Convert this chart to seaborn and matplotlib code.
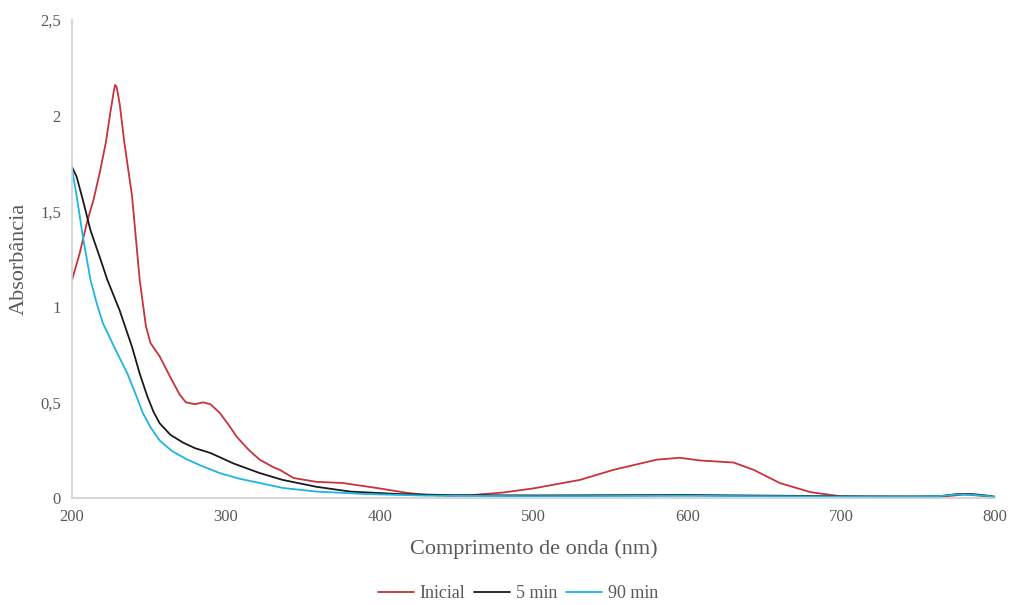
import matplotlib
matplotlib.use("Agg")
import matplotlib.pyplot as plt
import pandas as pd
import seaborn as sns

# wavelengths (nm) and absorbance
wl_inicial = [200, 205, 210, 214, 218, 222, 225, 227, 228, 229, 231, 234, 239, 244, 248, 251,
              257, 264, 270, 274, 280, 285, 290, 296, 302, 307, 315, 322, 331, 335, 344, 359,
              376, 398, 418, 430, 445, 460, 480, 500, 530, 552, 580, 595, 608, 630, 643,
              660, 680, 700, 720, 760, 770, 780, 790, 800]
abs_inicial = [1.14, 1.28, 1.45, 1.56, 1.70, 1.86, 2.02, 2.12, 2.16, 2.15, 2.06, 1.86, 1.58,
               1.14, 0.90, 0.81, 0.74, 0.63, 0.54, 0.50, 0.49, 0.50, 0.49, 0.445, 0.38, 0.32,
               0.25, 0.20, 0.16, 0.147, 0.104, 0.084, 0.078, 0.052, 0.026, 0.016, 0.012,
               0.015, 0.028, 0.05, 0.094, 0.147, 0.20, 0.21, 0.196, 0.185, 0.147, 0.078,
               0.03, 0.008, 0.004, 0.004, 0.01, 0.018, 0.012, 0.004]

wl_5min = [200, 203, 207, 212, 218, 223, 231, 239, 244, 249, 253, 257, 264, 272, 280, 290,
           305, 322, 337, 359, 381, 413, 450, 500, 550, 600, 650, 700, 750, 765, 775, 785,
           795, 800]
abs_5min = [1.73, 1.68, 1.56, 1.40, 1.26, 1.14, 0.98, 0.79, 0.65, 0.53, 0.45, 0.39, 0.33,
            0.29, 0.26, 0.235, 0.18, 0.13, 0.094, 0.058, 0.033, 0.02, 0.014, 0.013, 0.014,
            0.015, 0.012, 0.009, 0.008, 0.01, 0.02, 0.02, 0.012, 0.006]

wl_90min = [200, 203, 207, 212, 216, 220, 228, 236, 241, 246, 251, 257, 265, 275, 285, 296,
            309, 322, 337, 359, 392, 430, 500, 550, 600, 650, 700, 750, 765, 775, 785, 795,
            800]
abs_90min = [1.72, 1.58, 1.37, 1.14, 1.02, 0.915, 0.78, 0.65, 0.55, 0.445, 0.37, 0.30, 0.245,
             0.20, 0.165, 0.13, 0.10, 0.078, 0.052, 0.033, 0.02, 0.012, 0.009, 0.01, 0.011,
             0.009, 0.007, 0.007, 0.01, 0.018, 0.016, 0.01, 0.006]

series_names = ["Inicial", "5 min", "90 min"]
colors = ["#C8323C", "#1a1a1a", "#1EB4E3"]

df = pd.concat([
    pd.DataFrame({"wl": wl_inicial, "abs": abs_inicial, "serie": series_names[0]}),
    pd.DataFrame({"wl": wl_5min, "abs": abs_5min, "serie": series_names[1]}),
    pd.DataFrame({"wl": wl_90min, "abs": abs_90min, "serie": series_names[2]}),
])

sns.set_style("white")
plt.rcParams['font.family'] = ['Liberation Serif', 'DejaVu Serif']

fig = plt.figure(figsize=(10.1, 6.05), dpi=100)
ax = fig.add_axes([0.0713, 0.177, 0.914, 0.79])

sns.lineplot(data=df, x="wl", y="abs", hue="serie", palette=dict(zip(series_names, colors)),
             linewidth=1.3, ax=ax, sort=False, estimator=None)

ax.set_xlim(200, 800)
ax.set_ylim(0, 2.5)
ax.set_xticks([200, 300, 400, 500, 600, 700, 800])
yt = [0, 0.5, 1, 1.5, 2, 2.5]
ax.set_yticks(yt)
ax.set_yticklabels([("%g" % v).replace(".", ",") for v in yt])
ax.tick_params(axis="both", length=0, labelsize=12, labelcolor="#595959", pad=8)

for s in ["top", "right"]:
    ax.spines[s].set_visible(False)
for s in ["left", "bottom"]:
    ax.spines[s].set_color("#d0d0d0")
    ax.spines[s].set_linewidth(1.2)

ax.set_xlabel("Comprimento de onda (nm)", fontsize=16, color="#595959", labelpad=10)
ax.set_ylabel("Absorbância", fontsize=16, color="#595959", labelpad=8)

leg = ax.legend(loc="upper center", bbox_to_anchor=(0.483, -0.158), ncol=3, frameon=False,
                fontsize=13, handlelength=2.0, columnspacing=0.5, handletextpad=0.3,
                borderpad=0.15)
for t in leg.get_texts():
    t.set_color("#595959")

fig.savefig("out.png", dpi=100)
